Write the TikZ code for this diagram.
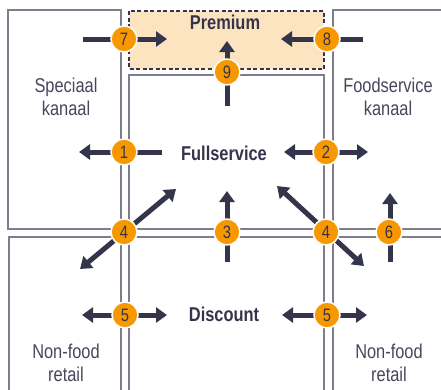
\documentclass[tikz,border=0pt]{standalone}
\usepackage{fontspec}
\setmainfont{Liberation Sans}[FakeStretch=0.82]
\usepackage{tikz}
\usetikzlibrary{arrows.meta}
\definecolor{myorange}{RGB}{247, 152, 0}
\definecolor{mynavy}{RGB}{52, 52, 74}
\definecolor{mygray1}{RGB}{125, 125, 140}
\definecolor{mytext}{RGB}{70, 70, 92}
\definecolor{mypeach}{RGB}{253, 228, 192}

\begin{document}
\begin{tikzpicture}[
    x = 1pt, y = -1pt,
    box/.style = {draw = mygray1, line width = 1.3pt},
    flow/.style = {draw = mynavy, line width = 5pt, -{Triangle[length=11pt, width=15pt]}},
    flows/.style = {flow, {Triangle[length=11pt, width=15pt]}-{Triangle[length=11pt, width=15pt]}},
    num/.style = {circle, fill = myorange, draw = white, line width = 1.5pt, minimum size = 26pt, inner sep = 0pt, text = mynavy, font = \fontsize{18}{18}\selectfont},
    lab/.style = {align = center, text = mytext, font = \fontsize{20}{23}\selectfont},
    hd/.style = {text = mynavy, font = \fontsize{20}{23}\selectfont\bfseries},
]
\useasboundingbox (0,0) rectangle (441,389);
\begin{scope}
\clip (0,0) rectangle (441,389);
\draw[box] (8,10) rectangle (121,229);
\draw[box] (129,75) rectangle (324,229);
\draw[box] (333,10) rectangle (460,229);
\draw[box] (9,237) rectangle (121,400);
\draw[box] (129,237) rectangle (324,400);
\draw[box] (333,237) rectangle (460,400);
\draw[draw = mynavy, fill = mypeach, line width = 1.3pt, dash pattern = on 4pt off 2.5pt] (129,11) rectangle (324,69);
\end{scope}

\node[hd] (premium) at (225,22) {Premium};
\node[hd] (full) at (224,153) {Fullservice};
\node[hd] (disc) at (224,314) {Discount};
\node[lab] (spec) at (66,97) {Speciaal\\kanaal};
\node[lab] (food) at (388,97) {Foodservice\\kanaal};
\node[lab] (nfl) at (66,363) {Non-food\\retail};
\node[lab] (nfr) at (389,363) {Non-food\\retail};

% arrow ends
\coordinate (a7) at (83,39);    \coordinate (b7) at (167,39);
\coordinate (a8) at (363,39);   \coordinate (b8) at (281,39);
\coordinate (a9) at (227,106);  \coordinate (b9) at (227,41);
\coordinate (a1) at (162,152);  \coordinate (b1) at (79,152);
\coordinate (a2) at (284,152);  \coordinate (b2) at (368,152);
\coordinate (a4l) at (80,269);  \coordinate (b4l) at (176,189);
\coordinate (a3) at (227,262);  \coordinate (b3) at (227,191);
\coordinate (a4r) at (364,266); \coordinate (b4r) at (277,186);
\coordinate (a6) at (390,262);  \coordinate (b6) at (390,193);
\coordinate (a5l) at (82,315);  \coordinate (b5l) at (167,315);
\coordinate (a5r) at (282,315); \coordinate (b5r) at (367,315);

\draw[flow] (a7) -- (b7);
\draw[flow] (a8) -- (b8);
\draw[flow] (a9) -- (b9);
\draw[flow] (a1) -- (b1);
\draw[flows] (a2) -- (b2);
\draw[flows] (a4l) -- (b4l);
\draw[flow] (a3) -- (b3);
\draw[flows] (a4r) -- (b4r);
\draw[flow] (a6) -- (b6);
\draw[flows] (a5l) -- (b5l);
\draw[flows] (a5r) -- (b5r);

\node[num] (n7) at (124,39) {7};
\node[num] (n8) at (327,39) {8};
\node[num] (n9) at (227,72) {9};
\node[num] (n1) at (124,152) {1};
\node[num] (n2) at (326,152) {2};
\node[num] (n4l) at (124,232) {4};
\node[num] (n3) at (227,232) {3};
\node[num] (n4r) at (326,232) {4};
\node[num] (n6) at (389,232) {6};
\node[num] (n5l) at (125,315) {5};
\node[num] (n5r) at (327,315) {5};
\end{tikzpicture}
\end{document}
